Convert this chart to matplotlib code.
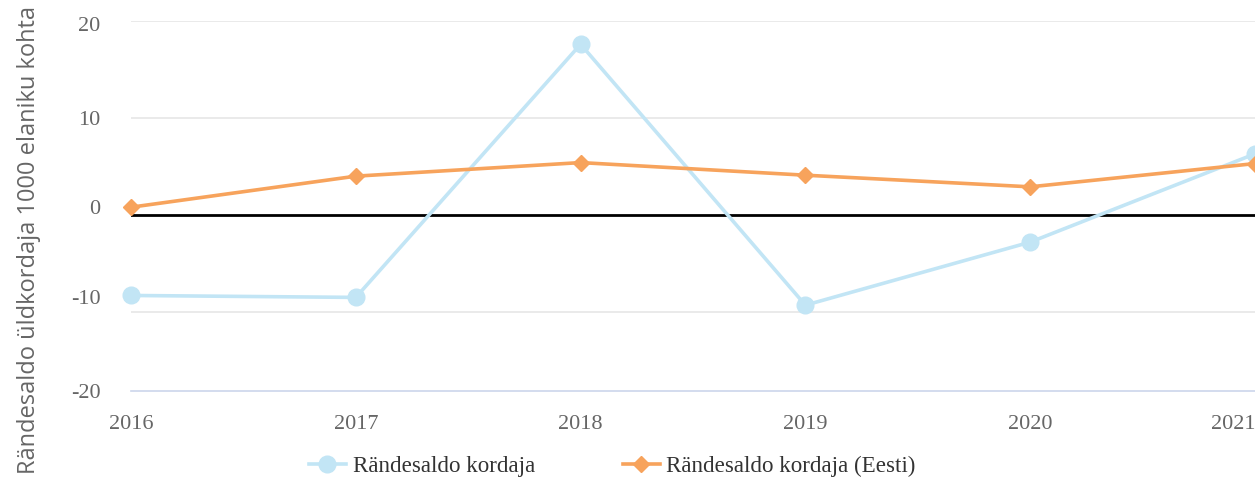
import matplotlib.pyplot as plt

years = [2016, 2017, 2018, 2019, 2020, 2021]
rate_local = [-8.3, -8.5, 17.6, -9.3, -2.8, 6.3]
rate_estonia = [0.8, 4.0, 5.4, 4.1, 2.9, 5.3]

grid_values = [20, 10, -10]
# tick labels sit a little off the grid lines in the original
ytick_pos = [19.7, 10, 0.8, -8.5, -18.2]
ytick_labels = ['20', '10', '0', '-10', '-20']

blue = '#c2e5f5'
orange = '#f7a35c'

fig = plt.figure(figsize=(12.55, 4.79), dpi=100)
ax = fig.add_axes([0.1044, 0.1827, 0.8956, 0.7735])

for g in grid_values:
    ax.axhline(g, color='#e6e6e6', linewidth=1.2, zorder=0)
ax.axhline(0, color='black', linewidth=2, zorder=1)

ax.plot(years, rate_local, color=blue, linewidth=2.6, marker='o',
        markersize=12, label='Rändesaldo kordaja', zorder=3, clip_on=False)
ax.plot(years, rate_estonia, color=orange, linewidth=2.6, marker='D',
        markersize=8.5, label='Rändesaldo kordaja (Eesti)', zorder=4, clip_on=False)

ax.set_xlim(2016, 2021)
ax.set_ylim(-18, 20)

for s in ['top', 'right', 'left']:
    ax.spines[s].set_visible(False)
ax.spines['bottom'].set_color('#ccd6eb')
ax.spines['bottom'].set_linewidth(1.2)

serif = 'Liberation Serif'
ax.set_xticks(years)
ax.set_xticklabels([str(y) for y in years], family=serif, fontsize=16, color='#666666')
ax.set_yticks(ytick_pos)
ax.set_yticklabels(ytick_labels, family=serif, fontsize=16, color='#666666')
ax.tick_params(axis='both', length=0)
ax.tick_params(axis='x', pad=17)
ax.tick_params(axis='y', pad=22)
ax.get_xticklabels()[-1].set_horizontalalignment('right')

fig.text(0.023, 0.5, 'Rändesaldo üldkordaja 1000 elaniku kohta', rotation=90,
         va='center', ha='center', family='Open Sans', fontsize=17, color='#666666')

fig.legend(loc='center', bbox_to_anchor=(0.488, 0.026), ncol=2, frameon=False,
           prop={'family': serif, 'size': 16.6}, labelcolor='#333333',
           handlelength=1.6, columnspacing=3.8, handletextpad=0.3)

fig.savefig('out.png', dpi=100)
